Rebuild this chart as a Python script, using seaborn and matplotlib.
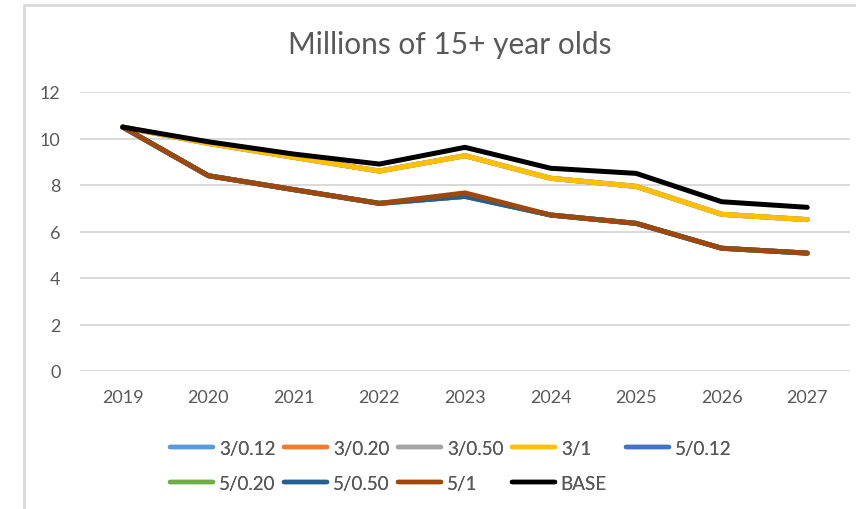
import matplotlib
matplotlib.use("Agg")
import matplotlib.pyplot as plt
from matplotlib.lines import Line2D
import seaborn as sns
import pandas as pd

years = ["2019", "2020", "2021", "2022", "2023", "2024", "2025", "2026", "2027"]
series_names = ["3/0.12", "3/0.20", "3/0.50", "3/1", "5/0.12", "5/0.20", "5/0.50", "5/1", "BASE"]

s3_012 = [10.49, 9.79, 9.19, 8.60, 9.26, 8.29, 7.94, 6.74, 6.51]
s3_020 = [10.49, 9.79, 9.19, 8.60, 9.26, 8.29, 7.94, 6.74, 6.51]
s3_050 = [10.49, 9.79, 9.19, 8.60, 9.26, 8.29, 7.94, 6.74, 6.51]
s3_1 = [10.49, 9.79, 9.19, 8.60, 9.26, 8.29, 7.94, 6.74, 6.51]
s5_012 = [10.49, 8.40, 7.80, 7.21, 7.51, 6.71, 6.35, 5.28, 5.07]
s5_020 = [10.49, 8.40, 7.80, 7.21, 7.51, 6.71, 6.35, 5.28, 5.07]
s5_050 = [10.49, 8.40, 7.80, 7.21, 7.51, 6.71, 6.35, 5.28, 5.07]
s5_1 = [10.49, 8.40, 7.80, 7.21, 7.66, 6.71, 6.35, 5.28, 5.07]
base = [10.49, 9.86, 9.33, 8.90, 9.62, 8.72, 8.50, 7.28, 7.04]

colors = ["#5B9BD5", "#ED7D31", "#A5A5A5", "#FFC000", "#4472C4",
          "#70AD47", "#255E91", "#9E480E", "#000000"]

all_values = [s3_012, s3_020, s3_050, s3_1, s5_012, s5_020, s5_050, s5_1, base]
rows = []
for name, vals in zip(series_names, all_values):
    for i, v in enumerate(vals):
        rows.append({"pos": i, "year": years[i], "series": name, "value": v})
df = pd.DataFrame(rows)

sns.set_theme(style="white")
plt.rcParams["font.family"] = ["Lato", "DejaVu Sans"]

W, H = 856, 510
fig = plt.figure(figsize=(W / 100, H / 100), dpi=100)
ax = fig.add_axes([80 / W, 1 - 372 / H, (850 - 80) / W, (372 - 93) / H])

sns.lineplot(data=df, x="pos", y="value", hue="series", hue_order=series_names,
             palette=colors, linewidth=3.6, sort=False, legend=False, ax=ax,
             solid_capstyle="round", solid_joinstyle="round", zorder=3)

ax.set_xlim(-0.5, len(years) - 0.5)
ax.set_ylim(0, 12)
ax.set_yticks(range(0, 13, 2))
ax.set_xticks(range(len(years)))
ax.set_xticklabels(years)
ax.set_xlabel("")
ax.set_ylabel("")
for s in ax.spines.values():
    s.set_visible(False)
ax.grid(axis="y", color="#D9D9D9", linewidth=1.4, zorder=0)
ax.grid(axis="x", visible=False)
ax.tick_params(axis="both", length=0, labelsize=13, labelcolor="#595959")
ax.tick_params(axis="y", pad=14)
ax.tick_params(axis="x", pad=13)

fig.text(450 / W, 1 - 45 / H, "Millions of 15+ year olds", ha="center", va="center",
         fontsize=21.5, color="#595959")

# chart border (top and left visible)
fig.add_artist(Line2D([24 / W, 1.0], [1 - 6 / H, 1 - 6 / H], color="#D9D9D9", linewidth=2))
fig.add_artist(Line2D([24 / W, 24 / W], [0, 1 - 6 / H], color="#D9D9D9", linewidth=2))

# legend: 5 evenly spaced columns, filled row-wise
handles = [Line2D([0], [0], color=c, linewidth=3.2, solid_capstyle="round") for c in colors]
col_x = [170, 284, 398, 512, 626]
ncols = 5
for c in range(ncols):
    idx = [i for i in (c, c + ncols) if i < len(series_names)]
    leg = fig.legend([handles[i] for i in idx], [series_names[i] for i in idx],
                     loc="upper left", bbox_to_anchor=(col_x[c] / W, 1 - 441 / H),
                     frameon=False, fontsize=13.5, handlelength=2.3, handletextpad=0.3,
                     labelspacing=0.95, borderpad=0, borderaxespad=0,
                     labelcolor="#595959")
    fig.add_artist(leg)

fig.savefig("out.png", dpi=100)
